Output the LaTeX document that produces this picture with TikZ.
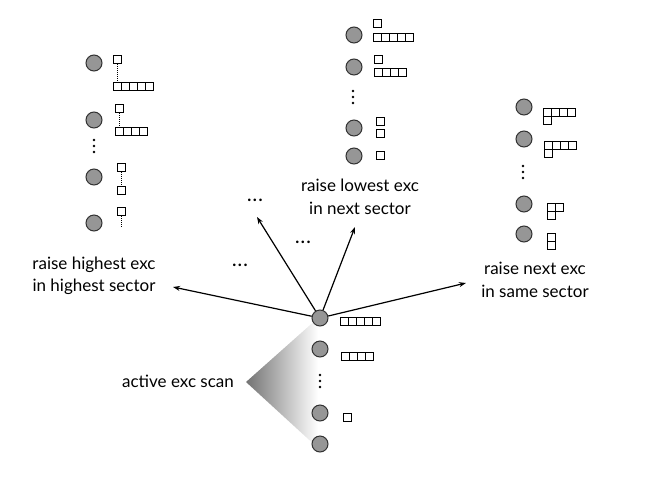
\documentclass[tikz,border=0pt]{standalone}
\usepackage{fontspec}
\setmainfont{Lato}
\usepackage{tikz}
\usetikzlibrary{arrows.meta,positioning}
\definecolor{sitefill}{RGB}{150,150,150}
\definecolor{siteedge}{RGB}{50,50,50}
% one row of young-diagram cells, top-left at (#1,#2)
\newcommand{\yrow}[3]{\foreach \k in {1,...,#3}{\draw[cell] ({#1+8*(\k-1)},#2) rectangle ++(8,8);}}
% three vertical dots centred at x=#1, first dot at y=#2
\newcommand{\vdot}[2]{\foreach \d in {0,6,12}{\fill ({#1},{#2+\d}) circle (1.4pt);}}
\tikzset{
  site/.style={circle, draw=siteedge, fill=sitefill, line width=1pt, minimum size=16pt, inner sep=0pt},
  cell/.style={draw=black, line width=1pt},
  lab/.style={font=\fontsize{17}{22.5}\selectfont, align=center},
  more/.style={font=\fontsize{17}{20}\selectfont\bfseries},
  arr/.style={line width=1.2pt, -{Stealth[length=7pt,width=5pt]}}
}
\begin{document}
\begin{tikzpicture}[x=1pt,y=-1pt]
\useasboundingbox (0,0) rectangle (654,491);
% scan wedge
\shade[left color=black!55, right color=white] (246,382) -- (318,318) -- (318,448) -- cycle;
% centre column
\node[site] (c1) at (320,318) {};
\node[site] (c2) at (320,349) {};
\node[site] (c3) at (320,413) {};
\node[site] (c4) at (320,444) {};
\vdot{320}{375}
\yrow{340}{317}{5}
\yrow{341}{352}{4}
\yrow{343}{413}{1}
% left column
\node[site] (l1) at (94,63) {};
\node[site] (l2) at (94,120) {};
\node[site] (l3) at (94,177) {};
\node[site] (l4) at (94,223) {};
\vdot{94}{140}
\yrow{113}{55}{1} \draw[cell, densely dotted] (117,64) -- (117,81); \yrow{113}{82}{5}
\yrow{115}{104}{1} \draw[cell, densely dotted] (119,113) -- (119,126); \yrow{115}{127}{4}
\yrow{117}{163}{1} \draw[cell, densely dotted] (121,172) -- (121,185); \yrow{117}{186}{1}
\yrow{117}{207}{1} \draw[cell, densely dotted] (121,216) -- (121,227);
% top column
\node[site] (t1) at (354,35) {};
\node[site] (t2) at (354,67) {};
\node[site] (t3) at (354,128) {};
\node[site] (t4) at (354,156) {};
\vdot{353}{91}
\yrow{373}{19}{1} \yrow{373}{33}{5}
\yrow{374}{55}{1} \yrow{374}{68}{4}
\yrow{376}{117}{1} \yrow{376}{129}{1}
\yrow{376}{151}{1}
% right column
\node[site] (r1) at (524,107) {};
\node[site] (r2) at (524,139) {};
\node[site] (r3) at (524,204) {};
\node[site] (r4) at (524,234) {};
\vdot{523}{166}
\yrow{543}{108}{4} \yrow{543}{116}{1}
\yrow{544}{141}{4} \yrow{544}{149}{1}
\yrow{547}{203}{2} \yrow{547}{211}{1}
\yrow{547}{233}{1} \yrow{547}{241}{1}
% labels
\node[lab] (hilab) at (94,276) {raise highest exc\\in highest sector};
\node[lab] (lolab) at (360,197) {raise lowest exc\\in next sector};
\node[lab] (nxlab) at (535,280) {raise next exc\\in same sector};
\node[lab] (scanlab) at (178,381) {active exc scan};
\node[more] (dd1) at (255,200) {.\kern1.5pt.\kern1.5pt.};
\node[more] (dd2) at (303,242) {.\kern1.5pt.\kern1.5pt.};
\node[more] (dd3) at (240,265) {.\kern1.5pt.\kern1.5pt.};
% moves
\coordinate (tipA) at (173,287);
\coordinate (tipB) at (257,217);
\coordinate (tipC) at (355,227);
\coordinate (tipD) at (466,283);
\draw[arr] (c1) -- (tipA);
\draw[arr] (c1) -- (tipB);
\draw[arr] (c1) -- (tipC);
\draw[arr] (c1) -- (tipD);
\end{tikzpicture}
\end{document}
